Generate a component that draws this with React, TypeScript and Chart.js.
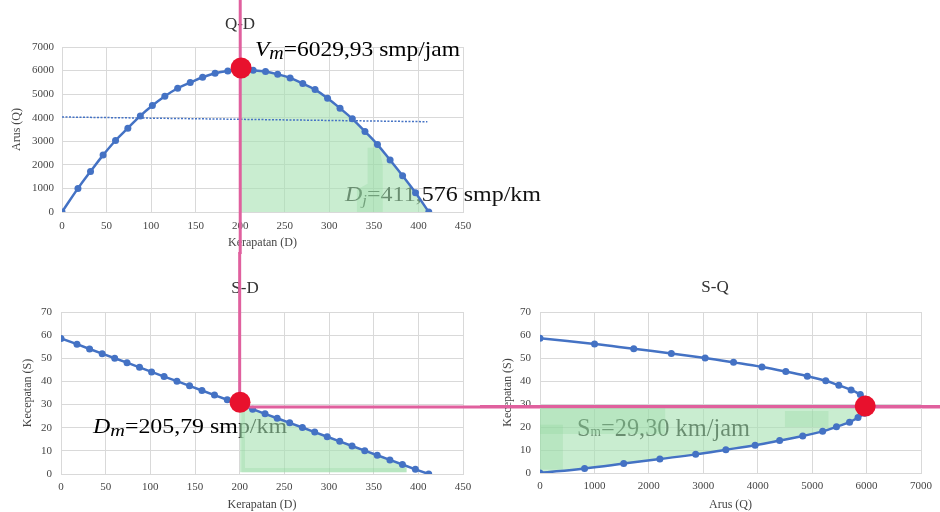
import React, { useEffect, useRef } from 'react';
import { Chart, registerables } from 'chart.js';
Chart.register(...registerables);

// ---------------- data ----------------
const densityD = [0, 17.9, 32.0, 46.1, 60.1, 73.9, 87.9, 101.4, 115.4, 129.8, 143.9, 157.8, 171.8, 186.1, 200.3, 214.5, 228.4, 242.0, 256.0, 270.2, 284.0, 298.0, 312.0, 325.8, 340.0, 354.0, 368.2, 382.2, 396.7, 411.6];
const flowQ = [0, 1002, 1722, 2413, 3034, 3556, 4078, 4516, 4911, 5250, 5490, 5716, 5885, 5984, 6030, 6012, 5960, 5843, 5687, 5447, 5193, 4827, 4403, 3952, 3415, 2860, 2202, 1538, 819, 0];
const speedS = [58.6, 56.1, 54.0, 52.0, 50.0, 48.1, 46.1, 44.1, 42.1, 40.1, 38.1, 36.1, 34.1, 32.1, 30.1, 28.0, 26.0, 24.1, 22.1, 20.1, 18.1, 16.1, 14.1, 12.1, 10.1, 8.1, 6.1, 4.1, 2.0, 0];

const trendD = [0, 410];
const trendQ = [4030, 3830];

const densityTicks = [0, 50, 100, 150, 200, 250, 300, 350, 400, 450];
const flowTicks = [0, 1000, 2000, 3000, 4000, 5000, 6000, 7000];
const speedTicks = [0, 10, 20, 30, 40, 50, 60, 70];

const titleQD = 'Q-D';
const titleSD = 'S-D';
const titleSQ = 'S-Q';
const densityTitle = 'Kerapatan (D)';
const flowTitle = 'Arus (Q)';
const speedTitle = 'Kecepatan (S)';

const vmText = '6029,93';
const djText = '411,576';
const dmText = '205,79';
const smText = '29,30';

// highlighted points / guides
const qdMarkerD = [201];
const qdMarkerQ = [6110];
const sdMarkerD = [200.4];
const sdMarkerS = [31.0];
const sqMarkerQ = [5975];
const sqMarkerS = [29.1];
const guideD = 200;
const guideS = 28.9;

// green shading
const qdShadeStart = 14;
const qdPatchD = [331, 331, 343, 343, 356, 360, 360];
const qdPatchQ = [0, 950, 1200, 2730, 2730, 2000, 0];
const sdShadeD = [...densityD.slice(14, 28), 387];
const sdShadeS = [...speedS.slice(14, 28), 3.4];
const sdShadeBase = 0.8;
const sdRimD = [202, 206, 206, 387, 387, 202];
const sdRimS = [29, 29, 2.6, 2.6, 0.8, 0.8];
const sqShadeQ = flowQ.slice(15).reverse();
const sqShadeS = speedS.slice(15).reverse();
const sqShadeTop = 28.3;
const sqPatchAQ = [0, 420, 420, 0];
const sqPatchAS = [1.5, 1.5, 21, 21];
const sqPatchBQ = [0, 2300, 2300, 0];
const sqPatchBS = [17, 17, 28.3, 28.3];
const sqPatchCQ = [4500, 5300, 5300, 4500];
const sqPatchCS = [20, 20, 27, 27];

// ---------------- styles ----------------
const FONT = '"Liberation Serif", "Times New Roman", serif';
const GRID = '#d9d9d9';
const LABEL = '#454545';
const BLUE = '#4472c4';
const RED = '#e8112d';
const PINK = '#e0609e';
const SHADE = 'rgba(165,225,177,0.6)';
const PATCH = 'rgba(140,212,155,0.28)';

const LAYOUT = {
  qd: { padding: { left: 6, top: 47, right: 477, bottom: 258 }, yWidth: 56, xHeight: 42, yPad: 8, xPad: 8, xTitlePad: { top: 4, bottom: 4 }, title: [240, 28.5] },
  sd: { padding: { left: 17, top: 312, right: 477, bottom: 0 }, yWidth: 44, xHeight: 38, yPad: 9, xPad: 7, xTitlePad: { top: 4, bottom: 0 }, title: [245, 292.5] },
  sq: { padding: { left: 497, top: 312, right: 19, bottom: 0 }, yWidth: 43, xHeight: 39, yPad: 9, xPad: 7, xTitlePad: { top: 4, bottom: 0 }, title: [715, 291.5] },
};

type Seg = { t: string; i?: boolean; sub?: boolean };
type Rich = { segs: Seg[]; x: number; y: number; size: number; width: number; subScale: number; subDy: number; color: string };

const vmLabel: Rich = { segs: [{ t: 'V', i: true }, { t: 'm', i: true, sub: true }, { t: '=' + vmText + ' smp/jam' }], x: 255, y: 56, size: 21, width: 205, subScale: 0.85, subDy: 3, color: '#000' };
const djLabel: Rich = { segs: [{ t: 'D', i: true }, { t: 'j', i: true, sub: true }, { t: '=' + djText + ' smp/km' }], x: 345, y: 201, size: 22, width: 196, subScale: 0.7, subDy: 4, color: '#111' };
const dmLabel: Rich = { segs: [{ t: 'D', i: true }, { t: 'm', i: true, sub: true }, { t: '=' + dmText + ' smp/km' }], x: 93, y: 433, size: 20, width: 194, subScale: 0.85, subDy: 3, color: '#000' };
const smLabel: Rich = { segs: [{ t: 'S' }, { t: 'm', sub: true }, { t: '=' + smText + ' km/jam' }], x: 577, y: 436, size: 25, width: 173, subScale: 0.55, subDy: 0, color: '#111' };

function drawRich(ctx: CanvasRenderingContext2D, r: Rich) {
  const fontFor = (s: Seg) => `${s.i ? 'italic ' : ''}${s.sub ? r.size * r.subScale : r.size}px ${FONT}`;
  let natural = 0;
  for (const s of r.segs) { ctx.font = fontFor(s); natural += ctx.measureText(s.t).width; }
  const k = r.width / natural;
  ctx.save();
  ctx.translate(r.x, r.y);
  ctx.scale(k, 1);
  ctx.fillStyle = r.color;
  ctx.textAlign = 'left';
  ctx.textBaseline = 'alphabetic';
  let cx = 0;
  for (const s of r.segs) {
    ctx.font = fontFor(s);
    ctx.fillText(s.t, cx, s.sub ? r.subDy : 0);
    cx += ctx.measureText(s.t).width;
  }
  ctx.restore();
}

function drawTitle(ctx: CanvasRenderingContext2D, text: string, pos: number[]) {
  ctx.save();
  ctx.font = `17px ${FONT}`;
  ctx.fillStyle = '#333';
  ctx.textAlign = 'center';
  ctx.textBaseline = 'alphabetic';
  ctx.fillText(text, pos[0], pos[1]);
  ctx.restore();
}

function pinkLine(ctx: CanvasRenderingContext2D, x1: number, y1: number, x2: number, y2: number) {
  ctx.save();
  ctx.strokeStyle = PINK;
  ctx.lineWidth = 3;
  ctx.beginPath();
  ctx.moveTo(x1, y1);
  ctx.lineTo(x2, y2);
  ctx.stroke();
  ctx.restore();
}

const pts = (xs: number[], ys: number[]) => xs.map((x, i) => ({ x, y: ys[i] }));

function makeAxis(ticks: number[], title: string, isX: boolean, size: number, tickPad: number, titlePad: any) {
  return {
    type: 'linear',
    position: isX ? 'bottom' : 'left',
    min: ticks[0],
    max: ticks[ticks.length - 1],
    afterBuildTicks: (s: any) => { s.ticks = ticks.map((v) => ({ value: v })); },
    afterFit: (s: any) => { if (isX) s.height = size; else s.width = size; },
    grid: { color: GRID, lineWidth: 1, drawTicks: false },
    border: { display: true, color: GRID, width: 1 },
    ticks: { padding: tickPad, color: LABEL, font: { family: FONT, size: 11 }, autoSkip: false, maxRotation: 0, callback: (v: any) => String(v) },
    title: { display: true, text: title, color: LABEL, font: { family: FONT, size: 12 }, padding: titlePad },
  };
}

function baseOptions(L: any, x: any, y: any) {
  return {
    responsive: false,
    animation: false,
    devicePixelRatio: 1,
    events: [],
    layout: { padding: L.padding, autoPadding: false },
    plugins: { legend: { display: false }, title: { display: false }, tooltip: { enabled: false } },
    scales: { x, y },
  };
}

function overlay(before: (c: any) => void, guide: (c: any) => void) {
  return {
    id: 'overlay',
    beforeDatasetsDraw(chart: any) { before(chart); },
    beforeDatasetDraw(chart: any, args: any) {
      if (chart.data.datasets[args.index].label === 'marker') guide(chart);
    },
  };
}

const markerSet = (data: any[]) => ({ label: 'marker', data, showLine: false, pointRadius: 10.5, pointBackgroundColor: RED, pointBorderWidth: 0, borderColor: RED, order: 1 });
const mainSet = (data: any[], tension: number) => ({ label: 'main', data, borderColor: BLUE, backgroundColor: BLUE, pointBackgroundColor: BLUE, pointBorderWidth: 0, pointRadius: 3.5, borderWidth: 2.5, tension, fill: false, order: 2 });
const shapeSet = (data: any[], color: string, order: number) => ({ label: 'patch', data, fill: 'shape', backgroundColor: color, borderWidth: 0, pointRadius: 0, tension: 0, order });

function buildQD(): any {
  const L = LAYOUT.qd;
  return {
    type: 'line',
    data: {
      datasets: [
        markerSet(pts(qdMarkerD, qdMarkerQ)),
        mainSet(pts(densityD, flowQ), 0.4),
        { label: 'trend', data: pts(trendD, trendQ), borderColor: BLUE, borderDash: [2, 1.5], borderWidth: 1.5, pointRadius: 0, fill: false, order: 3 },
        shapeSet(pts(qdPatchD, qdPatchQ), PATCH, 4),
        { label: 'shade', data: pts(densityD.slice(qdShadeStart), flowQ.slice(qdShadeStart)), fill: 'origin', backgroundColor: SHADE, borderWidth: 0, pointRadius: 0, tension: 0.4, order: 5 },
      ],
    },
    options: baseOptions(L,
      makeAxis(densityTicks, densityTitle, true, L.xHeight, L.xPad, L.xTitlePad),
      makeAxis(flowTicks, flowTitle, false, L.yWidth, L.yPad, { top: 4, bottom: 4 })),
    plugins: [overlay(
      (c) => { drawTitle(c.ctx, titleQD, L.title); drawRich(c.ctx, vmLabel); drawRich(c.ctx, djLabel); },
      (c) => { const x = c.scales.x.getPixelForValue(guideD); pinkLine(c.ctx, x, 0, x, c.scales.x.bottom); },
    )],
  };
}

function buildSD(): any {
  const L = LAYOUT.sd;
  return {
    type: 'line',
    data: {
      datasets: [
        markerSet(pts(sdMarkerD, sdMarkerS)),
        mainSet(pts(densityD, speedS), 0),
        shapeSet(pts(sdRimD, sdRimS), PATCH, 4),
        { label: 'shade', data: pts(sdShadeD, sdShadeS), fill: { target: { value: sdShadeBase } }, backgroundColor: SHADE, borderWidth: 0, pointRadius: 0, tension: 0, order: 5 },
      ],
    },
    options: baseOptions(L,
      makeAxis(densityTicks, densityTitle, true, L.xHeight, L.xPad, L.xTitlePad),
      makeAxis(speedTicks, speedTitle, false, L.yWidth, L.yPad, { top: 4, bottom: 4 })),
    plugins: [overlay(
      (c) => { drawTitle(c.ctx, titleSD, L.title); drawRich(c.ctx, dmLabel); },
      (c) => {
        const x = c.scales.x.getPixelForValue(guideD);
        const y = c.scales.y.getPixelForValue(guideS);
        pinkLine(c.ctx, x, c.chartArea.top - 60, x, y);
        pinkLine(c.ctx, x, y, c.width, y);
      },
    )],
  };
}

function buildSQ(): any {
  const L = LAYOUT.sq;
  return {
    type: 'line',
    data: {
      datasets: [
        markerSet(pts(sqMarkerQ, sqMarkerS)),
        mainSet(pts(flowQ, speedS), 0.4),
        shapeSet(pts(sqPatchAQ, sqPatchAS), PATCH, 4),
        shapeSet(pts(sqPatchBQ, sqPatchBS), PATCH, 4),
        shapeSet(pts(sqPatchCQ, sqPatchCS), PATCH, 4),
        { label: 'shade', data: pts(sqShadeQ, sqShadeS), fill: { target: { value: sqShadeTop } }, backgroundColor: SHADE, borderWidth: 0, pointRadius: 0, tension: 0.4, order: 5 },
      ],
    },
    options: baseOptions(L,
      makeAxis(flowTicks, flowTitle, true, L.xHeight, L.xPad, L.xTitlePad),
      makeAxis(speedTicks, speedTitle, false, L.yWidth, L.yPad, { top: 4, bottom: 4 })),
    plugins: [overlay(
      (c) => { drawTitle(c.ctx, titleSQ, L.title); drawRich(c.ctx, smLabel); },
      (c) => {
        const y = c.scales.y.getPixelForValue(guideS);
        pinkLine(c.ctx, c.chartArea.left - 60, y, c.width, y);
      },
    )],
  };
}

export default function App() {
  const qdRef = useRef<HTMLCanvasElement>(null);
  const sdRef = useRef<HTMLCanvasElement>(null);
  const sqRef = useRef<HTMLCanvasElement>(null);
  useEffect(() => {
    const charts = [
      new Chart(qdRef.current as HTMLCanvasElement, buildQD()),
      new Chart(sdRef.current as HTMLCanvasElement, buildSD()),
      new Chart(sqRef.current as HTMLCanvasElement, buildSQ()),
    ];
    return () => charts.forEach((c) => c.destroy());
  }, []);
  const cs: React.CSSProperties = { position: 'absolute', left: 0, top: 0, width: 940, height: 512 };
  return (
    <div style={{ position: 'fixed', left: 0, top: 0, width: 940, height: 512, background: '#fff', overflow: 'hidden' }}>
      <canvas ref={qdRef} width={940} height={512} style={cs} />
      <canvas ref={sdRef} width={940} height={512} style={cs} />
      <canvas ref={sqRef} width={940} height={512} style={cs} />
    </div>
  );
}
